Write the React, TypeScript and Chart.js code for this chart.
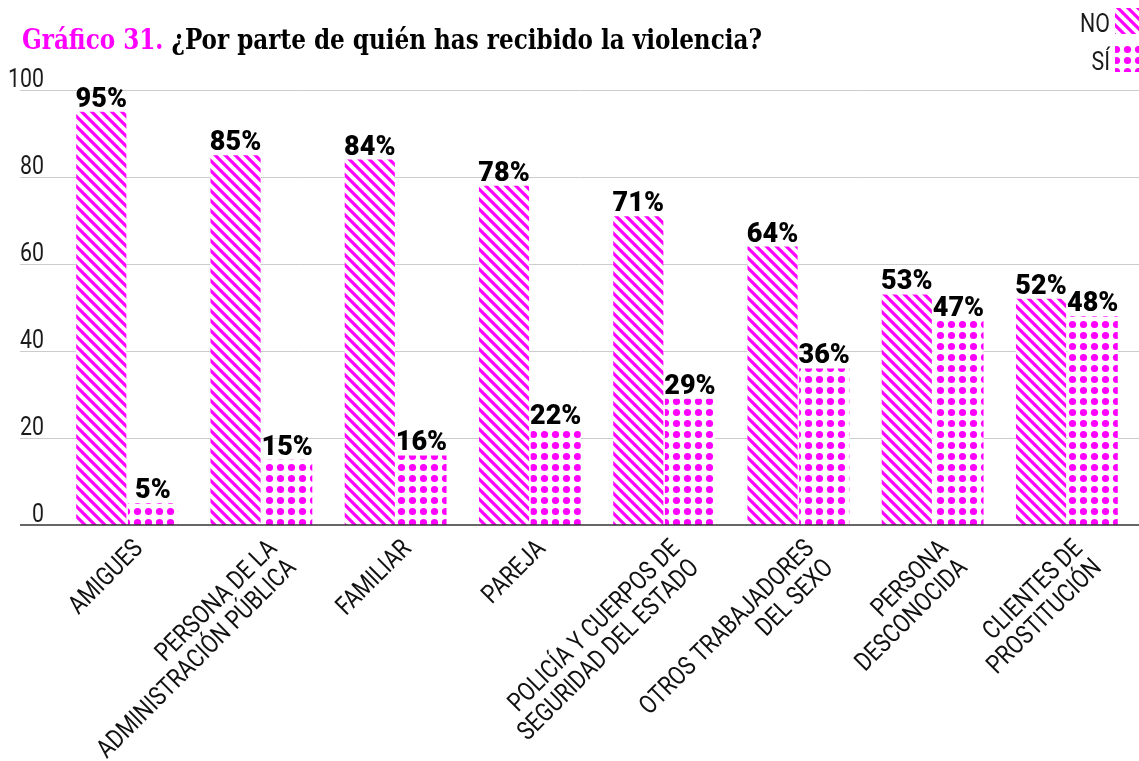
import React, { useEffect, useRef } from "react";
import { Chart, registerables } from "chart.js";

Chart.register(...registerables);

const categories: string[][] = [
  ["AMIGUES"],
  ["PERSONA DE LA", "ADMINISTRACIÓN PÚBLICA"],
  ["FAMILIAR"],
  ["PAREJA"],
  ["POLICÍA Y CUERPOS DE", "SEGURIDAD DEL ESTADO"],
  ["OTROS TRABAJADORES", "DEL SEXO"],
  ["PERSONA", "DESCONOCIDA"],
  ["CLIENTES DE", "PROSTITUCIÓN"],
];
const noValues = [95, 85, 84, 78, 71, 64, 53, 52];
const siValues = [5, 15, 16, 22, 29, 36, 47, 48];
const yTicks = [0, 20, 40, 60, 80, 100];
const seriesNames = ["NO", "SÍ"];
const titlePrefix = "Gráfico 31.";
const titleText = " ¿Por parte de quién has recibido la violencia?";

const MAGENTA = "#ff00ff";

function makeStripe(ctx: CanvasRenderingContext2D): CanvasPattern {
  const s = 10;
  const c = document.createElement("canvas");
  c.width = s;
  c.height = s;
  const g = c.getContext("2d")!;
  g.fillStyle = "#ffffff";
  g.fillRect(0, 0, s, s);
  g.strokeStyle = MAGENTA;
  g.lineWidth = 3.2;
  g.beginPath();
  g.moveTo(-s, -s);
  g.lineTo(2 * s, 2 * s);
  g.moveTo(-s, 0);
  g.lineTo(s, 2 * s);
  g.moveTo(0, -s);
  g.lineTo(2 * s, s);
  g.stroke();
  return ctx.createPattern(c, "repeat")!;
}

function makeDots(ctx: CanvasRenderingContext2D): CanvasPattern {
  const c = document.createElement("canvas");
  c.width = 11;
  c.height = 11;
  const g = c.getContext("2d")!;
  g.fillStyle = "#ffffff";
  g.fillRect(0, 0, 11, 11);
  g.fillStyle = MAGENTA;
  g.beginPath();
  g.arc(5.5, 5.5, 3.6, 0, Math.PI * 2);
  g.fill();
  return ctx.createPattern(c, "repeat")!;
}

export default function App() {
  const ref = useRef<HTMLCanvasElement | null>(null);

  useEffect(() => {
    document.body.style.margin = "0";
    const canvas = ref.current!;
    const ctx = canvas.getContext("2d")!;
    const stripe = makeStripe(ctx);
    const dots = makeDots(ctx);
    const patterns = [stripe, dots];

    const condensed = "Roboto, 'DejaVu Sans', sans-serif";

    const decor = {
      id: "decor",
      beforeDatasetsDraw(chart: any) {
        const c = chart.ctx as CanvasRenderingContext2D;
        const y = chart.scales.y;
        c.save();
        c.strokeStyle = "#cccccc";
        c.lineWidth = 1;
        yTicks.forEach((t) => {
          if (t === 0) return;
          const py = Math.round(y.getPixelForValue(t)) + 0.5;
          c.beginPath();
          c.moveTo(20, py);
          c.lineTo(1139, py);
          c.stroke();
        });
        c.fillStyle = "#1a1a1a";
        c.font = `26px ${condensed}`;
        c.textAlign = "right";
        c.textBaseline = "alphabetic";
        yTicks.forEach((t) => {
          const py = y.getPixelForValue(t);
          c.save();
          c.translate(44, py - 3);
          c.scale(0.82, 1);
          c.fillText(String(t), 0, 0);
          c.restore();
        });
        c.restore();
      },
      afterDatasetsDraw(chart: any) {
        const c = chart.ctx as CanvasRenderingContext2D;
        const y = chart.scales.y;
        const x = chart.scales.x;
        c.save();
        const by = y.getPixelForValue(0);
        c.strokeStyle = "#333333";
        c.lineWidth = 1.5;
        c.beginPath();
        c.moveTo(20, by);
        c.lineTo(1139, by);
        c.stroke();

        // value labels
        c.fillStyle = "#000000";
        c.font = `900 27px Roboto, sans-serif`;
        c.textAlign = "center";
        c.textBaseline = "alphabetic";
        [noValues, siValues].forEach((vals, d) => {
          const meta = chart.getDatasetMeta(d);
          meta.data.forEach((el: any, i: number) => {
            c.fillText(`${vals[i]}%`, el.x, el.y - 5);
          });
        });

        // x labels
        c.fillStyle = "#111111";
        c.font = `26px ${condensed}`;
        c.textAlign = "right";
        c.textBaseline = "top";
        categories.forEach((lines, i) => {
          const px = x.getPixelForValue(i);
          c.save();
          c.translate(px + 3, by + 11);
          c.rotate(-Math.PI / 4);
          c.scale(0.83, 1);
          lines.forEach((ln, k) => {
            c.fillText(ln, 0, k * 27);
          });
          c.restore();
        });

        // legend
        c.font = `26px ${condensed}`;
        c.textAlign = "right";
        c.textBaseline = "alphabetic";
        c.fillStyle = "#1a1a1a";
        const legY = [32, 70];
        const swY = [8, 46];
        seriesNames.forEach((n, k) => {
          c.save();
          c.translate(1110, legY[k]);
          c.scale(0.82, 1);
          c.fillText(n, 0, 0);
          c.restore();
          c.fillStyle = patterns[k];
          c.fillRect(1115, swY[k], 24, 26);
          c.fillStyle = "#1a1a1a";
        });

        // title
        c.font = `bold 28px 'DejaVu Serif Condensed', 'DejaVu Serif', serif`;
        c.textAlign = "left";
        const full = c.measureText(titlePrefix + titleText).width;
        const sc = 740 / full;
        const w1 = c.measureText(titlePrefix).width;
        c.save();
        c.translate(22, 49);
        c.scale(sc, 1);
        c.fillStyle = MAGENTA;
        c.fillText(titlePrefix, 0, 0);
        c.fillStyle = "#000000";
        c.fillText(titleText, w1, 0);
        c.restore();

        c.restore();
      },
    };

    const chart = new Chart(ctx, {
      type: "bar",
      data: {
        labels: categories.map((l) => l.join(" ")),
        datasets: [
          {
            label: seriesNames[0],
            data: noValues,
            backgroundColor: stripe as any,
            borderWidth: 0,
            categoryPercentage: 0.77,
            barPercentage: 0.97,
          },
          {
            label: seriesNames[1],
            data: siValues,
            backgroundColor: dots as any,
            borderWidth: 0,
            categoryPercentage: 0.77,
            barPercentage: 0.97,
          },
        ],
      },
      options: {
        responsive: false,
        animation: false,
        layout: { padding: { left: 60, right: 5, top: 90, bottom: 0 } },
        plugins: {
          legend: { display: false },
          tooltip: { enabled: false },
          title: { display: false },
        },
        scales: {
          x: {
            grid: { display: false },
            border: { display: false },
            ticks: { display: false },
            afterFit: (scale: any) => {
              scale.height = 236;
            },
          },
          y: {
            display: false,
            min: 0,
            max: 100,
          },
        },
      },
      plugins: [decor],
    });

    return () => chart.destroy();
  }, []);

  return (
    <div style={{ width: 1139, height: 761 }}>
      <canvas ref={ref} width={1139} height={761} />
    </div>
  );
}
